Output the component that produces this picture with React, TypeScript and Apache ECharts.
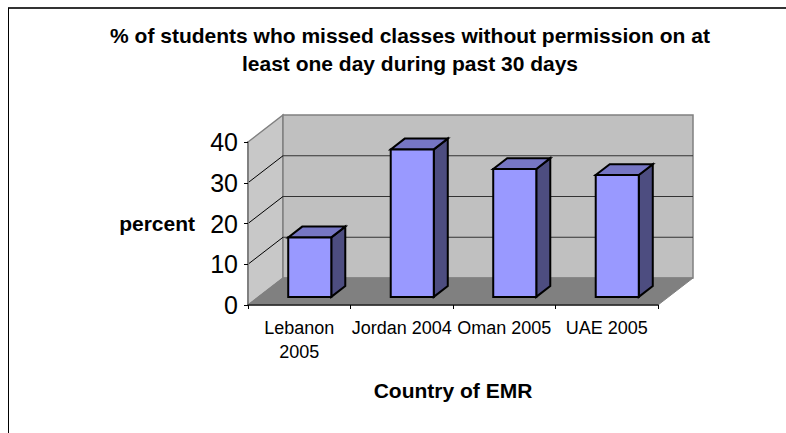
import React, { useEffect, useRef } from "react";
import * as echarts from "echarts";

const titleText = "% of students who missed classes without permission on at\nleast one day during past 30 days";
const categories = ["Lebanon\n2005", "Jordan 2004", "Oman 2005", "UAE 2005"];
const values = [14.6, 36.2, 31.4, 29.9];
const yTicks = [0, 10, 20, 30, 40];
const xAxisName = "Country of EMR";
const yAxisName = "percent";

const FONT = "'Liberation Sans', Arial, sans-serif";
const DEPTH_X = 35;
const DEPTH_Y = -27;

export default function App() {
  const ref = useRef<HTMLDivElement>(null);
  useEffect(() => {
    if (!ref.current) return;
    const chart = echarts.init(ref.current, undefined, { renderer: "svg" });
    const yMin = yTicks[0];
    const yMax = yTicks[yTicks.length - 1];

    const wallsRender = (params: any, api: any) => {
      const cs = params.coordSys;
      const L = cs.x;
      const R = cs.x + cs.width;
      const y0 = api.coord([0, yMin])[1];
      const yT = api.coord([0, yMax])[1];
      const dx = DEPTH_X, dy = DEPTH_Y;
      const children: any[] = [
        {
          type: "polygon",
          shape: { points: [[L, y0], [L, yT], [L + dx, yT + dy], [L + dx, y0 + dy]] },
          style: { fill: "#c8c8c8", stroke: "#808080", lineWidth: 1.5 },
        },
        {
          type: "polygon",
          shape: { points: [[L + dx, yT + dy], [R + dx, yT + dy], [R + dx, y0 + dy], [L + dx, y0 + dy]] },
          style: { fill: "#c0c0c0", stroke: "#808080", lineWidth: 1.5 },
        },
        {
          type: "polygon",
          shape: { points: [[L, y0], [R, y0], [R + dx, y0 + dy], [L + dx, y0 + dy]] },
          style: { fill: "#808080", stroke: "#808080", lineWidth: 1 },
        },
      ];
      yTicks.slice(1, -1).forEach((v) => {
        const yv = api.coord([0, v])[1];
        children.push({
          type: "line",
          shape: { x1: L, y1: yv, x2: L + dx, y2: yv + dy },
          style: { stroke: "#000", lineWidth: 1 },
        });
        children.push({
          type: "line",
          shape: { x1: L + dx, y1: yv + dy, x2: R + dx, y2: yv + dy },
          style: { stroke: "#333", lineWidth: 1 },
        });
      });
      return { type: "group", children };
    };

    const barRender = (params: any, api: any) => {
      const i = api.value(0);
      const v = api.value(1);
      const base = api.coord([i, 0]);
      const top = api.coord([i, v]);
      const band = api.size([1, 0])[0];
      const hw = band * 0.21;
      const fx = base[0] + 0.3 * DEPTH_X;
      const fyb = base[1] + 0.3 * DEPTH_Y;
      const fyt = top[1] + 0.3 * DEPTH_Y;
      const ddx = 0.4 * DEPTH_X;
      const ddy = 0.4 * DEPTH_Y;
      const stroke = { stroke: "#000", lineWidth: 2, lineJoin: "miter" };
      return {
        type: "group",
        children: [
          {
            type: "polygon",
            shape: { points: [[fx + hw, fyt], [fx + hw, fyb], [fx + hw + ddx, fyb + ddy], [fx + hw + ddx, fyt + ddy]] },
            style: { fill: "#4d4d80", ...stroke },
          },
          {
            type: "polygon",
            shape: { points: [[fx - hw, fyt], [fx + hw, fyt], [fx + hw + ddx, fyt + ddy], [fx - hw + ddx, fyt + ddy]] },
            style: { fill: "#7676c4", ...stroke },
          },
          {
            type: "polygon",
            shape: { points: [[fx - hw, fyt], [fx + hw, fyt], [fx + hw, fyb], [fx - hw, fyb]] },
            style: { fill: "#9999ff", ...stroke },
          },
        ],
      };
    };

    chart.setOption({
      animation: false,
      backgroundColor: "#ffffff",
      title: {
        text: titleText,
        left: 405,
        top: 16,
        textAlign: "center",
        textStyle: { fontFamily: FONT, fontSize: 21, fontWeight: "bold", lineHeight: 28, color: "#000" },
      },
      graphic: [
        { type: "line", shape: { x1: 8, y1: 8, x2: 786, y2: 8 }, style: { stroke: "#333", lineWidth: 2 } },
        { type: "line", shape: { x1: 8.5, y1: 8, x2: 8.5, y2: 433 }, style: { stroke: "#000", lineWidth: 1 } },
      ],
      grid: { left: 248, right: 128, top: 142, bottom: 128 },
      xAxis: {
        type: "category",
        data: categories,
        z: 5,
        name: xAxisName,
        nameLocation: "middle",
        nameGap: 75,
        nameTextStyle: { fontFamily: FONT, fontSize: 21, fontWeight: "bold", color: "#000", verticalAlign: "top" },
        axisLine: { show: true, lineStyle: { color: "#222", width: 1.5 } },
        axisTick: { show: true, alignWithLabel: false, length: 4, lineStyle: { color: "#000" } },
        axisLabel: { interval: 0, hideOverlap: false, margin: 11, fontFamily: FONT, fontSize: 18, lineHeight: 24, color: "#000" },
        splitLine: { show: false },
      },
      yAxis: {
        type: "value",
        min: yMin,
        max: yMax,
        interval: 10,
        z: 5,
        name: yAxisName,
        nameLocation: "middle",
        nameRotate: 0,
        nameGap: 53,
        nameTextStyle: { fontFamily: FONT, fontSize: 21, fontWeight: "bold", color: "#000", align: "right", verticalAlign: "middle" },
        axisLine: { show: true, lineStyle: { color: "#808080", width: 2 } },
        axisTick: { show: true, length: 4, lineStyle: { color: "#000" } },
        axisLabel: { margin: 10, fontFamily: FONT, fontSize: 25, color: "#000" },
        splitLine: { show: false },
      },
      series: [
        {
          type: "custom",
          name: "walls",
          clip: false,
          silent: true,
          data: [[0, 0]],
          encode: { x: 0, y: 1 },
          renderItem: wallsRender,
          z: 1,
        },
        {
          type: "custom",
          name: "percent",
          clip: false,
          data: values.map((v, i) => [i, v]),
          encode: { x: 0, y: 1 },
          renderItem: barRender,
          z: 3,
        },
      ],
    });
    return () => chart.dispose();
  }, []);
  return (
    <div
      ref={ref}
      style={{ position: "fixed", left: 0, top: 0, width: 786, height: 433 }}
    />
  );
}
